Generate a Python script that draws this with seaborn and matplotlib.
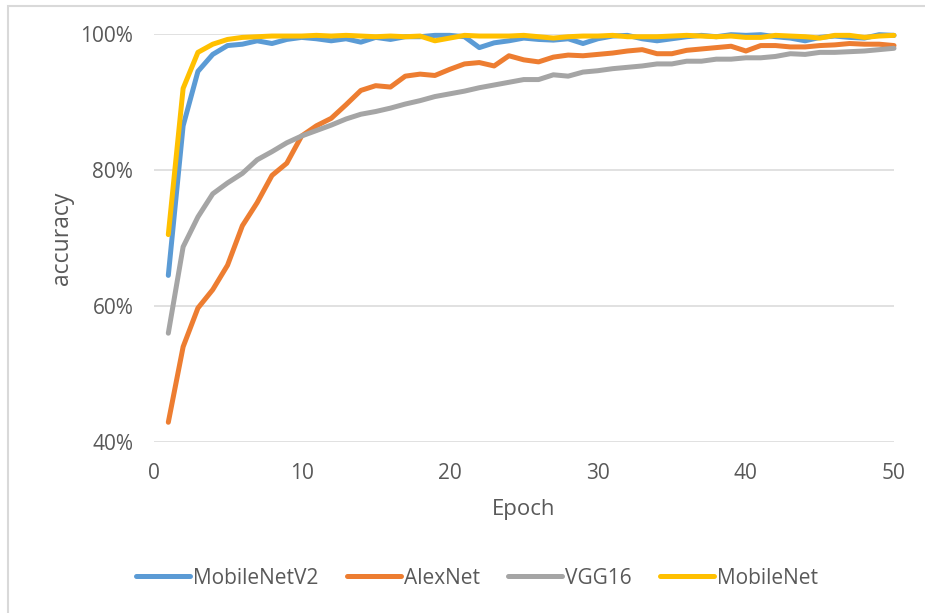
import pandas as pd
import matplotlib
matplotlib.use('Agg')
import matplotlib.pyplot as plt
import matplotlib.ticker as mticker
from matplotlib.patches import Rectangle
from matplotlib.lines import Line2D
import seaborn as sns

# accuracy per epoch (percent)
epochs = list(range(1, 51))

mobilenetv2 = [64.5, 86.5, 94.5, 97.0, 98.3, 98.5, 99.0, 98.6, 99.2, 99.5,
               99.3, 99.0, 99.3, 98.8, 99.5, 99.2, 99.6, 99.6, 99.8, 99.8,
               99.6, 98.0, 98.7, 99.0, 99.4, 99.2, 99.1, 99.3, 98.6, 99.3,
               99.7, 99.8, 99.3, 99.0, 99.3, 99.6, 99.8, 99.6, 99.9, 99.8,
               99.9, 99.6, 99.4, 99.0, 99.5, 99.7, 99.5, 99.4, 99.9, 99.8]

alexnet = [42.9, 54.0, 59.7, 62.4, 66.0, 71.8, 75.2, 79.2, 81.0, 85.0,
           86.5, 87.6, 89.6, 91.7, 92.4, 92.2, 93.8, 94.1, 93.9, 94.8,
           95.6, 95.8, 95.3, 96.8, 96.2, 95.9, 96.6, 96.9, 96.8, 97.0,
           97.2, 97.5, 97.7, 97.1, 97.1, 97.6, 97.8, 98.0, 98.2, 97.5,
           98.3, 98.3, 98.1, 98.1, 98.3, 98.4, 98.6, 98.5, 98.5, 98.3]

vgg16 = [56.0, 68.7, 73.1, 76.5, 78.1, 79.5, 81.5, 82.7, 84.0, 85.0,
         85.8, 86.6, 87.5, 88.2, 88.6, 89.1, 89.7, 90.2, 90.8, 91.2,
         91.6, 92.1, 92.5, 92.9, 93.3, 93.3, 94.0, 93.8, 94.4, 94.6,
         94.9, 95.1, 95.3, 95.6, 95.6, 96.0, 96.0, 96.3, 96.3, 96.5,
         96.5, 96.7, 97.1, 97.0, 97.3, 97.3, 97.4, 97.5, 97.7, 97.9]

mobilenet = [70.5, 92.0, 97.3, 98.5, 99.2, 99.5, 99.6, 99.7, 99.7, 99.7,
             99.8, 99.7, 99.8, 99.7, 99.6, 99.7, 99.6, 99.7, 99.0, 99.4,
             99.8, 99.7, 99.7, 99.7, 99.8, 99.6, 99.4, 99.6, 99.7, 99.7,
             99.8, 99.6, 99.6, 99.6, 99.7, 99.8, 99.7, 99.6, 99.7, 99.5,
             99.5, 99.8, 99.7, 99.6, 99.4, 99.8, 99.8, 99.5, 99.7, 99.8]

models = ['MobileNetV2', 'AlexNet', 'VGG16', 'MobileNet']
colors = ['#5B9BD5', '#ED7D31', '#A5A5A5', '#FFC000']
series = [mobilenetv2, alexnet, vgg16, mobilenet]

rows = []
for name, vals in zip(models, series):
    for e, v in zip(epochs, vals):
        rows.append({'Epoch': e, 'accuracy': v / 100, 'model': name})
df = pd.DataFrame(rows)

sns.set_style('white')
plt.rcParams['font.family'] = ['Open Sans', 'DejaVu Sans']
text_color = '#595959'

fig = plt.figure(figsize=(9.25, 6.13), dpi=100)
ax = fig.add_axes([153.5 / 925, 1 - 442 / 613, 740.5 / 925, 408 / 613])

sns.lineplot(data=df, x='Epoch', y='accuracy', hue='model', hue_order=models,
             palette=dict(zip(models, colors)), linewidth=3.6, ax=ax,
             legend=False, clip_on=False)

ax.set_xlim(0, 50)
ax.set_ylim(0.4, 1.0)
ax.set_xticks(range(0, 51, 10))
ax.set_yticks([0.4, 0.6, 0.8, 1.0])
ax.yaxis.set_major_formatter(mticker.PercentFormatter(1.0, decimals=0))
ax.grid(axis='y', color='#D9D9D9', linewidth=1.1)
ax.set_axisbelow(True)
for s in ax.spines.values():
    s.set_visible(False)
ax.tick_params(axis='both', length=0, labelsize=15, labelcolor=text_color)
ax.tick_params(axis='y', pad=14.5)
ax.tick_params(axis='x', pad=15)

ax.set_xlabel('Epoch', fontsize=16, color=text_color, va='center')
ax.set_ylabel('accuracy', fontsize=16.5, color=text_color, va='center')
ax.xaxis.set_label_coords(0.5, (442 - 510) / 408)
ax.yaxis.set_label_coords((62 - 153.5) / 740.5, 0.5)

handles = [Line2D([], [], color=c, linewidth=3.6, solid_capstyle='round') for c in colors]
fig.legend(handles, models, loc='center', bbox_to_anchor=(477 / 925, 1 - 578 / 613),
           ncol=4, frameon=False, fontsize=15, handlelength=2.6,
           handletextpad=0.15, columnspacing=1.35, labelcolor=text_color)

# chart border like the spreadsheet frame
fig.patches.append(Rectangle((8 / 925, -0.05), 1.2, 1 - 6 / 613 + 0.05,
                             transform=fig.transFigure, fill=False,
                             edgecolor='#D9D9D9', linewidth=1.5))

fig.savefig('out.png', dpi=100)
